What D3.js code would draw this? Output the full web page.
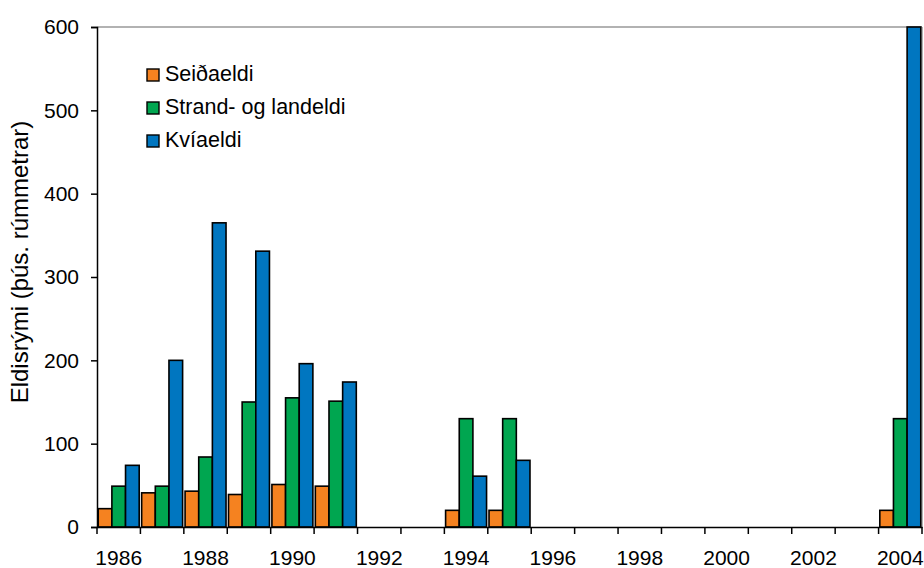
<!DOCTYPE html>
<html><head><meta charset="utf-8">
<script src="https://cdn.jsdelivr.net/npm/d3@7"></script>
<style>
body{margin:0;background:#fff;}
text{font-family:"Liberation Sans",Arial,sans-serif;fill:#000;}
</style></head>
<body>
<svg id="c" width="924" height="568"></svg>
<script>
const years = [1986,1987,1988,1989,1990,1991,1992,1993,1994,1995,1996,1997,1998,1999,2000,2001,2002,2003,2004];
const seriesNames = ["Seiðaeldi","Strand- og landeldi","Kvíaeldi"];
const seidaeldi = [22,41,43,39,51,49,null,null,20,20,null,null,null,null,null,null,null,null,20];
const strand    = [49,49,84,150,155,151,null,null,130,130,null,null,null,null,null,null,null,null,130];
const kviaeldi  = [74,200,365,331,196,174,null,null,61,80,null,null,null,null,null,null,null,null,600];
const colors = ["#f58220","#00a650","#0076c0"];
const yTicks = [0,100,200,300,400,500,600];
const yTitle = "Eldisrými (þús. rúmmetrar)";

const svg = d3.select("#c");
const L=97, R=922, T=27, B=527;
const x0 = d3.scaleBand().domain(years).range([L,R]).padding(0);
const x1 = d3.scaleBand().domain(seriesNames).range([0,x0.bandwidth()]).paddingInner(0).paddingOuter(0.09);
const y = d3.scaleLinear().domain([0,600]).range([B,T]);

// plot frame (grey top/right)
svg.append("line").attr("x1",L).attr("x2",R).attr("y1",T).attr("y2",T).attr("stroke","#999").attr("stroke-width",1.5);
svg.append("line").attr("x1",R).attr("x2",R).attr("y1",T).attr("y2",B).attr("stroke","#999").attr("stroke-width",1.5);

const data = [seidaeldi,strand,kviaeldi];
years.forEach((yr,i)=>{
  seriesNames.forEach((s,j)=>{
    const v = data[j][i];
    if(v==null) return;
    svg.append("rect")
      .attr("x",x0(yr)+x1(s)).attr("width",x1.bandwidth())
      .attr("y",y(v)).attr("height",y(0)-y(v))
      .attr("fill",colors[j]).attr("stroke","#000").attr("stroke-width",1.6);
  });
});

// y axis
const ya = svg.append("g").attr("transform",`translate(${L},0)`)
  .call(d3.axisLeft(y).tickValues(yTicks).tickSize(6).tickPadding(12).tickFormat(d3.format("d")));
ya.select(".domain").attr("stroke","#000").attr("stroke-width",1.5);
ya.selectAll(".tick line").attr("stroke","#000").attr("stroke-width",1.5);
ya.selectAll("text").style("font-size","21px").attr("fill","#000");

// x axis
const xa = svg.append("g").attr("transform",`translate(0,${B})`)
  .call(d3.axisBottom(x0).tickSize(0).tickPadding(23).tickFormat(d=> (d%2===0)? d : ""));
xa.select(".domain").attr("stroke","#000").attr("stroke-width",1.5);
xa.selectAll("text").style("font-size","21px").attr("fill","#000");
const bounds = years.map(d=>x0(d)).concat([x0.range()[1]]);
svg.append("g").selectAll("line").data(bounds).join("line")
  .attr("x1",d=>d).attr("x2",d=>d).attr("y1",B).attr("y2",B+7)
  .attr("stroke","#000").attr("stroke-width",1.5);

// y title
svg.append("text").attr("transform","translate(28,262) rotate(-90)")
  .attr("text-anchor","middle").style("font-size","24px").text(yTitle);

// legend
const lg = svg.append("g");
seriesNames.forEach((s,j)=>{
  const by = 81 + j*33;
  lg.append("rect").attr("x",147).attr("y",by-12).attr("width",12).attr("height",12)
    .attr("fill",colors[j]).attr("stroke","#000").attr("stroke-width",1.4);
  lg.append("text").attr("x",165).attr("y",by).style("font-size","21.5px").text(s);
});
</script>
</body></html>
